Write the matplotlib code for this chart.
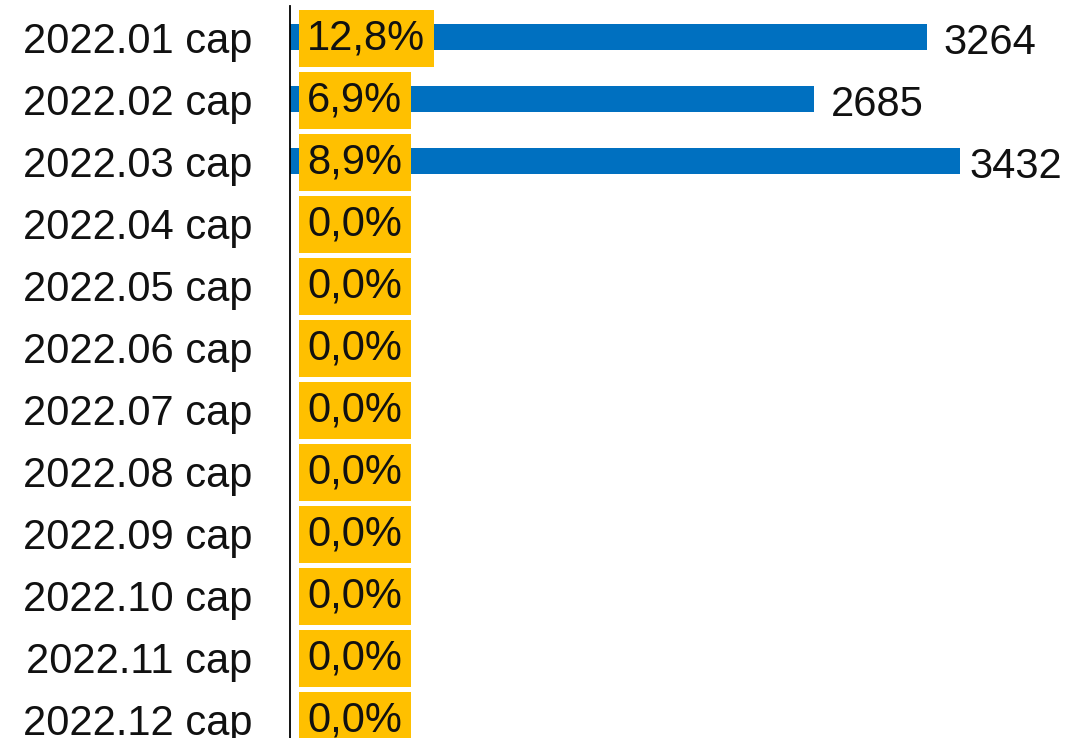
import matplotlib.pyplot as plt

plt.rcParams['font.family'] = ['Liberation Sans', 'DejaVu Sans']

# Data
months = ["2022.01 cap", "2022.02 cap", "2022.03 cap", "2022.04 cap", "2022.05 cap", "2022.06 cap",
          "2022.07 cap", "2022.08 cap", "2022.09 cap", "2022.10 cap", "2022.11 cap", "2022.12 cap"]
values = [3264, 2685, 3432, 0, 0, 0, 0, 0, 0, 0, 0, 0]
shares = ["12,8%", "6,9%", "8,9%", "0,0%", "0,0%", "0,0%",
          "0,0%", "0,0%", "0,0%", "0,0%", "0,0%", "0,0%"]

blue = "#0070C0"
yellow = "#FFC000"

fig = plt.figure(figsize=(10.66, 7.38), dpi=100)
ax = fig.add_axes([290 / 1066, -12 / 738, 776 / 1066, 744 / 738])

ypos = list(range(len(months)))
ax.barh(ypos, values, height=0.42, color=blue)

# Value labels right of the bars, pulled in a bit if they would run off the edge
xmax = 3977
for y, v in zip(ypos, values):
    if v > 0:
        off = 12 if v < 3300 else 7
        ax.annotate(str(v), xy=(v, y), xytext=(off, -1), textcoords="offset points",
                    ha="left", va="center_baseline", fontsize=30, color="#111111")

# Yellow percentage boxes near the axis
for y, s in zip(ypos, shares):
    ax.annotate(s, xy=(0, y), xytext=(12.5, 2), textcoords="offset points",
                ha="left", va="center_baseline", fontsize=30, color="#111111",
                bbox=dict(boxstyle="square,pad=0.21", fc=yellow, ec="none"))

ax.set_xlim(0, xmax)
ax.set_ylim(len(months) - 0.5, -0.5)
ax.set_yticks(ypos)
ax.set_yticklabels(months, fontsize=30, color="#111111", va="center_baseline")
ax.tick_params(axis="y", length=0, pad=27)
ax.set_xticks([])

for side in ["top", "right", "bottom"]:
    ax.spines[side].set_visible(False)
ax.spines["left"].set_linewidth(1.3)
ax.spines["left"].set_color("black")

plt.savefig("out.png", dpi=100)
